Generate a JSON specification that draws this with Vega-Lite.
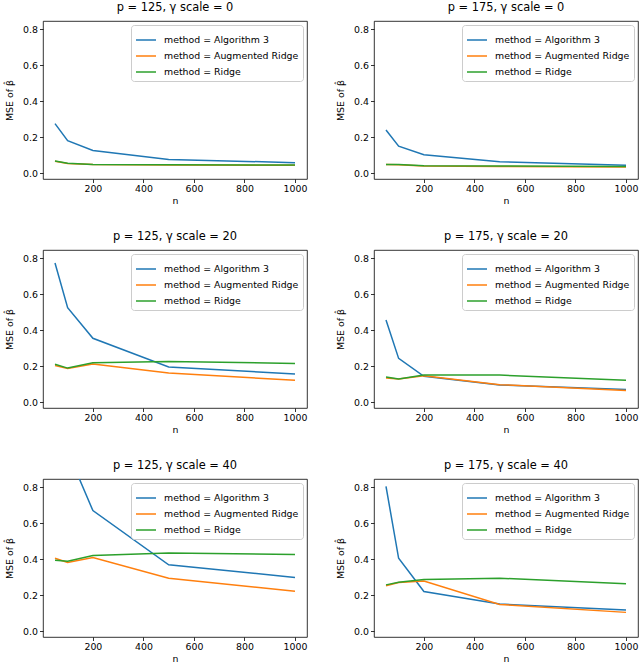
{
  "$schema": "https://vega.github.io/schema/vega-lite/v6.json",
  "padding": {"left": 3, "top": 1, "right": 0, "bottom": 0},
  "data": {
    "values": [
      {"p": 125, "g": 0, "method": "Algorithm 3", "n": 50, "mse": 0.275},
      {"p": 125, "g": 0, "method": "Algorithm 3", "n": 100, "mse": 0.18},
      {"p": 125, "g": 0, "method": "Algorithm 3", "n": 200, "mse": 0.126},
      {"p": 125, "g": 0, "method": "Algorithm 3", "n": 500, "mse": 0.076},
      {"p": 125, "g": 0, "method": "Algorithm 3", "n": 1000, "mse": 0.058},
      {"p": 125, "g": 0, "method": "Augmented Ridge", "n": 50, "mse": 0.066},
      {"p": 125, "g": 0, "method": "Augmented Ridge", "n": 100, "mse": 0.053},
      {"p": 125, "g": 0, "method": "Augmented Ridge", "n": 200, "mse": 0.047},
      {"p": 125, "g": 0, "method": "Augmented Ridge", "n": 500, "mse": 0.045},
      {"p": 125, "g": 0, "method": "Augmented Ridge", "n": 1000, "mse": 0.043},
      {"p": 125, "g": 0, "method": "Ridge", "n": 50, "mse": 0.067},
      {"p": 125, "g": 0, "method": "Ridge", "n": 100, "mse": 0.054},
      {"p": 125, "g": 0, "method": "Ridge", "n": 200, "mse": 0.048},
      {"p": 125, "g": 0, "method": "Ridge", "n": 500, "mse": 0.046},
      {"p": 125, "g": 0, "method": "Ridge", "n": 1000, "mse": 0.045},
      {"p": 175, "g": 0, "method": "Algorithm 3", "n": 50, "mse": 0.24},
      {"p": 175, "g": 0, "method": "Algorithm 3", "n": 100, "mse": 0.15},
      {"p": 175, "g": 0, "method": "Algorithm 3", "n": 200, "mse": 0.102},
      {"p": 175, "g": 0, "method": "Algorithm 3", "n": 500, "mse": 0.063},
      {"p": 175, "g": 0, "method": "Algorithm 3", "n": 1000, "mse": 0.043},
      {"p": 175, "g": 0, "method": "Augmented Ridge", "n": 50, "mse": 0.047},
      {"p": 175, "g": 0, "method": "Augmented Ridge", "n": 100, "mse": 0.046},
      {"p": 175, "g": 0, "method": "Augmented Ridge", "n": 200, "mse": 0.04},
      {"p": 175, "g": 0, "method": "Augmented Ridge", "n": 500, "mse": 0.037},
      {"p": 175, "g": 0, "method": "Augmented Ridge", "n": 1000, "mse": 0.034},
      {"p": 175, "g": 0, "method": "Ridge", "n": 50, "mse": 0.048},
      {"p": 175, "g": 0, "method": "Ridge", "n": 100, "mse": 0.048},
      {"p": 175, "g": 0, "method": "Ridge", "n": 200, "mse": 0.041},
      {"p": 175, "g": 0, "method": "Ridge", "n": 500, "mse": 0.039},
      {"p": 175, "g": 0, "method": "Ridge", "n": 1000, "mse": 0.037},
      {"p": 125, "g": 20, "method": "Algorithm 3", "n": 50, "mse": 0.774},
      {"p": 125, "g": 20, "method": "Algorithm 3", "n": 100, "mse": 0.525},
      {"p": 125, "g": 20, "method": "Algorithm 3", "n": 200, "mse": 0.355},
      {"p": 125, "g": 20, "method": "Algorithm 3", "n": 500, "mse": 0.195},
      {"p": 125, "g": 20, "method": "Algorithm 3", "n": 1000, "mse": 0.156},
      {"p": 125, "g": 20, "method": "Augmented Ridge", "n": 50, "mse": 0.204},
      {"p": 125, "g": 20, "method": "Augmented Ridge", "n": 100, "mse": 0.187},
      {"p": 125, "g": 20, "method": "Augmented Ridge", "n": 200, "mse": 0.212},
      {"p": 125, "g": 20, "method": "Augmented Ridge", "n": 500, "mse": 0.162},
      {"p": 125, "g": 20, "method": "Augmented Ridge", "n": 1000, "mse": 0.121},
      {"p": 125, "g": 20, "method": "Ridge", "n": 50, "mse": 0.21},
      {"p": 125, "g": 20, "method": "Ridge", "n": 100, "mse": 0.189},
      {"p": 125, "g": 20, "method": "Ridge", "n": 200, "mse": 0.219},
      {"p": 125, "g": 20, "method": "Ridge", "n": 500, "mse": 0.225},
      {"p": 125, "g": 20, "method": "Ridge", "n": 1000, "mse": 0.215},
      {"p": 175, "g": 20, "method": "Algorithm 3", "n": 50, "mse": 0.457},
      {"p": 175, "g": 20, "method": "Algorithm 3", "n": 100, "mse": 0.243},
      {"p": 175, "g": 20, "method": "Algorithm 3", "n": 200, "mse": 0.143},
      {"p": 175, "g": 20, "method": "Algorithm 3", "n": 500, "mse": 0.095},
      {"p": 175, "g": 20, "method": "Algorithm 3", "n": 1000, "mse": 0.07},
      {"p": 175, "g": 20, "method": "Augmented Ridge", "n": 50, "mse": 0.134},
      {"p": 175, "g": 20, "method": "Augmented Ridge", "n": 100, "mse": 0.128},
      {"p": 175, "g": 20, "method": "Augmented Ridge", "n": 200, "mse": 0.147},
      {"p": 175, "g": 20, "method": "Augmented Ridge", "n": 500, "mse": 0.097},
      {"p": 175, "g": 20, "method": "Augmented Ridge", "n": 1000, "mse": 0.065},
      {"p": 175, "g": 20, "method": "Ridge", "n": 50, "mse": 0.139},
      {"p": 175, "g": 20, "method": "Ridge", "n": 100, "mse": 0.128},
      {"p": 175, "g": 20, "method": "Ridge", "n": 200, "mse": 0.15},
      {"p": 175, "g": 20, "method": "Ridge", "n": 500, "mse": 0.15},
      {"p": 175, "g": 20, "method": "Ridge", "n": 1000, "mse": 0.122},
      {"p": 125, "g": 40, "method": "Algorithm 3", "n": 50, "mse": 1.6},
      {"p": 125, "g": 40, "method": "Algorithm 3", "n": 100, "mse": 1.0},
      {"p": 125, "g": 40, "method": "Algorithm 3", "n": 200, "mse": 0.67},
      {"p": 125, "g": 40, "method": "Algorithm 3", "n": 500, "mse": 0.369},
      {"p": 125, "g": 40, "method": "Algorithm 3", "n": 1000, "mse": 0.298},
      {"p": 125, "g": 40, "method": "Augmented Ridge", "n": 50, "mse": 0.405},
      {"p": 125, "g": 40, "method": "Augmented Ridge", "n": 100, "mse": 0.381},
      {"p": 125, "g": 40, "method": "Augmented Ridge", "n": 200, "mse": 0.409},
      {"p": 125, "g": 40, "method": "Augmented Ridge", "n": 500, "mse": 0.294},
      {"p": 125, "g": 40, "method": "Augmented Ridge", "n": 1000, "mse": 0.222},
      {"p": 125, "g": 40, "method": "Ridge", "n": 50, "mse": 0.394},
      {"p": 125, "g": 40, "method": "Ridge", "n": 100, "mse": 0.389},
      {"p": 125, "g": 40, "method": "Ridge", "n": 200, "mse": 0.42},
      {"p": 125, "g": 40, "method": "Ridge", "n": 500, "mse": 0.435},
      {"p": 125, "g": 40, "method": "Ridge", "n": 1000, "mse": 0.426},
      {"p": 175, "g": 40, "method": "Algorithm 3", "n": 50, "mse": 0.805},
      {"p": 175, "g": 40, "method": "Algorithm 3", "n": 100, "mse": 0.405},
      {"p": 175, "g": 40, "method": "Algorithm 3", "n": 200, "mse": 0.22},
      {"p": 175, "g": 40, "method": "Algorithm 3", "n": 500, "mse": 0.15},
      {"p": 175, "g": 40, "method": "Algorithm 3", "n": 1000, "mse": 0.117},
      {"p": 175, "g": 40, "method": "Augmented Ridge", "n": 50, "mse": 0.252},
      {"p": 175, "g": 40, "method": "Augmented Ridge", "n": 100, "mse": 0.27},
      {"p": 175, "g": 40, "method": "Augmented Ridge", "n": 200, "mse": 0.278},
      {"p": 175, "g": 40, "method": "Augmented Ridge", "n": 500, "mse": 0.148},
      {"p": 175, "g": 40, "method": "Augmented Ridge", "n": 1000, "mse": 0.104},
      {"p": 175, "g": 40, "method": "Ridge", "n": 50, "mse": 0.257},
      {"p": 175, "g": 40, "method": "Ridge", "n": 100, "mse": 0.272},
      {"p": 175, "g": 40, "method": "Ridge", "n": 200, "mse": 0.287},
      {"p": 175, "g": 40, "method": "Ridge", "n": 500, "mse": 0.294},
      {"p": 175, "g": 40, "method": "Ridge", "n": 1000, "mse": 0.263}
    ]
  },
  "columns": 2,
  "spacing": {"row": 24, "column": 26},
  "resolve": {"legend": {"color": "independent"}},
  "concat": [
    {
      "title": "p = 125, γ scale = 0",
      "width": 264, "height": 158,
      "transform": [{"filter": "datum.p == 125 && datum.g == 0"}],
      "mark": {"type": "line", "strokeWidth": 1.5, "clip": true},
      "encoding": {
        "x": {"field": "n", "type": "quantitative", "title": "n", "scale": {"domain": [2.5, 1047.5], "nice": false, "zero": false}, "axis": {"values": [200, 400, 600, 800, 1000], "format": "d"}},
        "y": {"field": "mse", "type": "quantitative", "title": "MSE of β̂", "scale": {"domain": [-0.033, 0.846], "nice": false, "zero": false}, "axis": {"values": [0, 0.2, 0.4, 0.6, 0.8], "format": ".1f"}},
        "color": {"field": "method", "type": "nominal", "scale": {"domain": ["Algorithm 3", "Augmented Ridge", "Ridge"], "range": ["#1f77b4", "#ff7f0e", "#2ca02c"]}, "legend": {"title": null, "labelExpr": "'method = ' + datum.label"}}
      }
    },
    {
      "title": "p = 175, γ scale = 0",
      "width": 264, "height": 158,
      "transform": [{"filter": "datum.p == 175 && datum.g == 0"}],
      "mark": {"type": "line", "strokeWidth": 1.5, "clip": true},
      "encoding": {
        "x": {"field": "n", "type": "quantitative", "title": "n", "scale": {"domain": [2.5, 1047.5], "nice": false, "zero": false}, "axis": {"values": [200, 400, 600, 800, 1000], "format": "d"}},
        "y": {"field": "mse", "type": "quantitative", "title": "MSE of β̂", "scale": {"domain": [-0.033, 0.846], "nice": false, "zero": false}, "axis": {"values": [0, 0.2, 0.4, 0.6, 0.8], "format": ".1f"}},
        "color": {"field": "method", "type": "nominal", "scale": {"domain": ["Algorithm 3", "Augmented Ridge", "Ridge"], "range": ["#1f77b4", "#ff7f0e", "#2ca02c"]}, "legend": {"title": null, "labelExpr": "'method = ' + datum.label"}}
      }
    },
    {
      "title": "p = 125, γ scale = 20",
      "width": 264, "height": 158,
      "transform": [{"filter": "datum.p == 125 && datum.g == 20"}],
      "mark": {"type": "line", "strokeWidth": 1.5, "clip": true},
      "encoding": {
        "x": {"field": "n", "type": "quantitative", "title": "n", "scale": {"domain": [2.5, 1047.5], "nice": false, "zero": false}, "axis": {"values": [200, 400, 600, 800, 1000], "format": "d"}},
        "y": {"field": "mse", "type": "quantitative", "title": "MSE of β̂", "scale": {"domain": [-0.033, 0.846], "nice": false, "zero": false}, "axis": {"values": [0, 0.2, 0.4, 0.6, 0.8], "format": ".1f"}},
        "color": {"field": "method", "type": "nominal", "scale": {"domain": ["Algorithm 3", "Augmented Ridge", "Ridge"], "range": ["#1f77b4", "#ff7f0e", "#2ca02c"]}, "legend": {"title": null, "labelExpr": "'method = ' + datum.label"}}
      }
    },
    {
      "title": "p = 175, γ scale = 20",
      "width": 264, "height": 158,
      "transform": [{"filter": "datum.p == 175 && datum.g == 20"}],
      "mark": {"type": "line", "strokeWidth": 1.5, "clip": true},
      "encoding": {
        "x": {"field": "n", "type": "quantitative", "title": "n", "scale": {"domain": [2.5, 1047.5], "nice": false, "zero": false}, "axis": {"values": [200, 400, 600, 800, 1000], "format": "d"}},
        "y": {"field": "mse", "type": "quantitative", "title": "MSE of β̂", "scale": {"domain": [-0.033, 0.846], "nice": false, "zero": false}, "axis": {"values": [0, 0.2, 0.4, 0.6, 0.8], "format": ".1f"}},
        "color": {"field": "method", "type": "nominal", "scale": {"domain": ["Algorithm 3", "Augmented Ridge", "Ridge"], "range": ["#1f77b4", "#ff7f0e", "#2ca02c"]}, "legend": {"title": null, "labelExpr": "'method = ' + datum.label"}}
      }
    },
    {
      "title": "p = 125, γ scale = 40",
      "width": 264, "height": 158,
      "transform": [{"filter": "datum.p == 125 && datum.g == 40"}],
      "mark": {"type": "line", "strokeWidth": 1.5, "clip": true},
      "encoding": {
        "x": {"field": "n", "type": "quantitative", "title": "n", "scale": {"domain": [2.5, 1047.5], "nice": false, "zero": false}, "axis": {"values": [200, 400, 600, 800, 1000], "format": "d"}},
        "y": {"field": "mse", "type": "quantitative", "title": "MSE of β̂", "scale": {"domain": [-0.033, 0.846], "nice": false, "zero": false}, "axis": {"values": [0, 0.2, 0.4, 0.6, 0.8], "format": ".1f"}},
        "color": {"field": "method", "type": "nominal", "scale": {"domain": ["Algorithm 3", "Augmented Ridge", "Ridge"], "range": ["#1f77b4", "#ff7f0e", "#2ca02c"]}, "legend": {"title": null, "labelExpr": "'method = ' + datum.label"}}
      }
    },
    {
      "title": "p = 175, γ scale = 40",
      "width": 264, "height": 158,
      "transform": [{"filter": "datum.p == 175 && datum.g == 40"}],
      "mark": {"type": "line", "strokeWidth": 1.5, "clip": true},
      "encoding": {
        "x": {"field": "n", "type": "quantitative", "title": "n", "scale": {"domain": [2.5, 1047.5], "nice": false, "zero": false}, "axis": {"values": [200, 400, 600, 800, 1000], "format": "d"}},
        "y": {"field": "mse", "type": "quantitative", "title": "MSE of β̂", "scale": {"domain": [-0.033, 0.846], "nice": false, "zero": false}, "axis": {"values": [0, 0.2, 0.4, 0.6, 0.8], "format": ".1f"}},
        "color": {"field": "method", "type": "nominal", "scale": {"domain": ["Algorithm 3", "Augmented Ridge", "Ridge"], "range": ["#1f77b4", "#ff7f0e", "#2ca02c"]}, "legend": {"title": null, "labelExpr": "'method = ' + datum.label"}}
      }
    }
  ],
  "config": {
    "font": "DejaVu Sans",
    "view": {"stroke": "#000", "strokeWidth": 0.8},
    "axis": {
      "domain": false,
      "grid": false,
      "tickColor": "#000",
      "tickSize": 3.5,
      "tickWidth": 0.8,
      "labelColor": "#000",
      "labelFontSize": 9.4,
      "labelPadding": 2,
      "titleColor": "#000",
      "titleFontSize": 9.4,
      "titleFontWeight": "normal"
    },
    "axisX": {"titlePadding": 4},
    "axisY": {"titlePadding": 8.5},
    "title": {"fontSize": 11.4, "fontWeight": "normal", "color": "#000", "offset": 8},
    "legend": {
      "orient": "top-right",
      "offset": 4,
      "fillColor": "#fff",
      "strokeColor": "#cccccc",
      "cornerRadius": 3,
      "padding": 4,
      "symbolType": "stroke",
      "symbolSize": 400,
      "symbolStrokeWidth": 1.5,
      "labelFontSize": 9.4,
      "labelColor": "#000",
      "labelOffset": 7,
      "rowPadding": -6
    }
  }
}
